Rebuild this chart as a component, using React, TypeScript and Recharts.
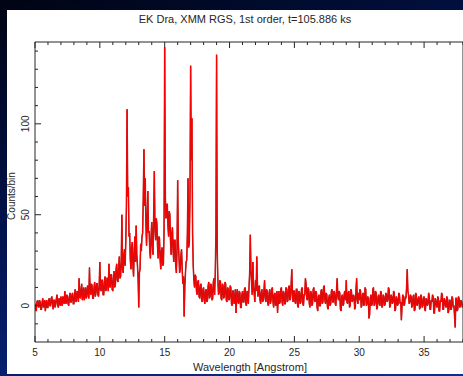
// EK Dra RGS spectrum — counts per bin vs wavelength, framed like an old IDL plot.
import { Line, LineChart, XAxis, YAxis } from "recharts";

const INK = "#262626";
const RED = "#ff0000";
const RED_EDGE = "#a81c1c";
const FONT = "'Liberation Sans', Arial, Helvetica, sans-serif";

// Spectrum binned at 0.05 Å (counts/bin).
const WAVE_START = 5;
const WAVE_STEP = 0.05;

const counts05to10 = [
  1, -2, -3, 2, 3, 0, -1, 3, 2, -2,
  -2, 2, 4, -1, 0, 3, -3, 1, 3, -1,
  -1, 3, 4, 0, 0, 4, 5, 1, -2, 3,
  3, -1, 1, 4, 6, 0, -1, 4, 3, 0,
  5, 1, 0, 5, 4, 1, 8, 3, 1, 6,
  5, 1, 0, 5, 7, 2, 2, 6, 7, 1,
  1, 6, 9, 2, 3, 8, 7, 2, 15, 5,
  4, 9, 12, 3, 6, 10, 3, 7, 10, 4,
  5, 11, 10, 4, 21, 8, 6, 12, 11, 4,
  4, 10, 13, 5, 7, 12, 12, 6, 5, 11,
];
const counts10to15 = [
  24, 9, 8, 14, 14, 6, 6, 13, 16, 8,
  9, 15, 15, 8, 23, 11, 10, 17, 17, 9,
  8, 15, 19, 10, 12, 20, 23, 14, 13, 21,
  27, 15, 16, 24, 50, 20, 18, 28, 31, 22,
  35, 55, 108, 60, 65, 38, 40, 25, 20, 32,
  35, 22, 16, 30, 38, 24, 44, 28, 22, 15,
  -1, 18, 20, 34, 30, 38, 40, 60, 86, 55,
  70, 45, 33, 48, 63, 40, 41, 30, 26, 38,
  46, 33, 28, 50, 74, 42, 36, 48, 45, 32,
  26, 38, 37, 25, 20, 30, 32, 22, 23, 40,
];
const counts15to20 = [
  142, 60, 48, 55, 56, 44, 38, 52, 50, 35,
  28, 40, 43, 30, 24, 36, 36, 22, 18, 30,
  69, 35, 27, 18, 20, 28, 31, 20, 12, 16,
  -6, 10, 18, 24, 25, 40, 70, 32, 35, 60,
  132, 80, 103, 40, 22, 14, 10, 17, 16, 8,
  6, 13, 14, 5, 4, 11, 12, 3, 2, 9,
  10, 3, 1, 8, 9, 2, 3, 11, 13, 4,
  5, 12, 11, 3, 4, 13, 15, 6, 18, 40,
  138, 30, 14, 6, 7, 14, 13, 4, 3, 12,
  11, 4, 5, 13, 12, 3, 2, 10, 9, 3,
];
const counts20to25 = [
  4, 11, 10, 1, 0, 8, 8, 1, 2, 9,
  -4, 5, 9, 2, 1, 8, 7, -1, -1, 6,
  8, 2, 2, 9, 10, 1, 0, 8, 7, 1,
  10, 18, 39, 20, 12, 6, 24, 10, 7, 2,
  14, 8, 27, 12, 5, 10, 11, 3, 1, 7,
  9, 2, 3, 8, 14, 4, 2, 9, 8, 1,
  0, 7, 9, 1, 3, 9, 10, 2, -1, 6,
  7, 0, 1, 8, -4, 3, 8, 1, 2, 9,
  10, 2, 0, 8, 7, 1, 1, 10, 9, 2,
  3, 10, 11, 3, 4, 12, 20, 6, 2, 8,
];
const counts25to30 = [
  8, 2, 1, 9, 9, 0, -1, 8, 7, 1,
  2, 9, 10, 1, 0, 6, 6, 15, 12, 4,
  3, 10, 9, 1, -1, 8, 7, 0, 1, 9,
  10, 3, 2, 8, 7, -1, -3, 5, 6, 0,
  0, 8, 9, 1, 2, 10, 11, 3, 1, 7,
  6, -1, -2, 4, 6, 0, 1, 8, 9, 2,
  2, 8, 7, 1, 0, 9, 15, 5, 3, 8,
  7, -2, -3, 5, 6, 0, 1, 7, 8, 3,
  14, 2, 1, 7, 8, -1, 0, 9, 8, 2,
  3, 6, 5, -2, -1, 9, 15, 3, 1, 7,
];
const counts30to35 = [
  3, 9, 8, -1, 0, 6, 7, 0, 1, 10,
  9, 0, 1, 5, 4, -7, -5, 4, 6, 0,
  1, 9, 10, 0, 1, 8, 7, -2, -1, 5,
  6, 1, 0, 8, 7, -1, 0, 6, 5, 0,
  1, 7, 6, 2, 3, 10, 9, -1, 0, 6,
  5, 1, 2, 8, 7, -3, -2, 5, 4, 0,
  1, 7, 6, 1, 2, -8, 0, 6, 5, 0,
  1, 5, 4, 10, 20, 8, 6, 1, 2, 6,
  5, -1, 0, 5, 6, -3, -2, 7, 6, 0,
  1, 4, 5, -2, -1, 6, 5, -1, 0, 4,
];
const counts35to38 = [
  5, -2, -3, 4, 3, 0, 1, 7, 5, -2,
  -2, 3, 2, 6, 5, -4, -4, 4, 3, 0,
  -1, 5, 4, -3, -3, 3, 2, 7, 6, -2,
  -2, 4, 3, 0, -1, 5, 4, -4, -3, 3,
  3, -2, -2, 5, 4, -1, 0, -6, -12, 4,
  4, -3, -2, 5, 4, -1, 0, 3, 2, -1,
];

const xTicks = [5, 6, 7, 8, 9, 10, 11, 12, 13, 14, 15, 16, 17, 18, 19, 20, 21, 22, 23, 24, 25, 26, 27, 28, 29, 30, 31, 32, 33, 34, 35, 36, 37, 38];
const yTicks = [-10, 0, 10, 20, 30, 40, 50, 60, 70, 80, 90, 100, 110, 120, 130, 140];

const TITLE = "EK Dra, XMM RGS, 1st order, t=105.886 ks";
const X_LABEL = "Wavelength [Angstrom]";
const Y_LABEL = "Counts/bin";

const spectrum = [
  ...counts05to10,
  ...counts10to15,
  ...counts15to20,
  ...counts20to25,
  ...counts25to30,
  ...counts30to35,
  ...counts35to38,
].map((c, i) => ({ wl: +(WAVE_START + i * WAVE_STEP).toFixed(2), counts: c }));

const isMajorX = (v: number) => v % 5 === 0;
const isMajorY = (v: number) => v % 50 === 0;

// ticks point inward, IDL style
function BottomTick({ x, y, payload }: any) {
  const major = isMajorX(payload.value);
  return (
    <g>
      <line x1={x} x2={x} y1={y} y2={y - (major ? 6 : 3)} stroke={INK} />
      {major && (
        <text x={x} y={y + 14} textAnchor="middle" fontSize={10} fontFamily={FONT} fill={INK}>
          {payload.value}
        </text>
      )}
    </g>
  );
}

function TopTick({ x, y, payload }: any) {
  const major = isMajorX(payload.value);
  return <line x1={x} x2={x} y1={y} y2={y + (major ? 6 : 3)} stroke={INK} />;
}

function LeftTick({ x, y, payload }: any) {
  const major = isMajorY(payload.value);
  return (
    <g>
      <line x1={x} x2={x + (major ? 6 : 3)} y1={y} y2={y} stroke={INK} />
      {major && (
        <text
          x={x - 6}
          y={y}
          transform={`rotate(-90 ${x - 6} ${y})`}
          textAnchor="middle"
          fontSize={10}
          fontFamily={FONT}
          fill={INK}
        >
          {payload.value}
        </text>
      )}
    </g>
  );
}

function RightTick({ x, y, payload }: any) {
  const major = isMajorY(payload.value);
  return <line x1={x} x2={x - (major ? 6 : 3)} y1={y} y2={y} stroke={INK} />;
}

export default function App() {
  return (
    <div
      style={{
        position: "fixed",
        left: 0,
        top: 0,
        width: 463,
        height: 376,
        overflow: "hidden",
        background: "linear-gradient(160deg, #000413 0%, #021450 45%, #0b2f98 100%)",
        fontFamily: FONT,
      }}
    >
      <div
        style={{ position: "absolute", left: 7, top: 10, width: 460, height: 364, background: "#fff" }}
      />
      <div
        style={{
          position: "absolute",
          left: 0,
          width: 490,
          top: 13,
          textAlign: "center",
          fontSize: 11,
          color: INK,
        }}
      >
        {TITLE}
      </div>
      <div style={{ position: "absolute", left: 0, top: 0 }}>
        <LineChart
          width={470}
          height={376}
          data={spectrum}
          margin={{ top: 41, right: 6, bottom: 33, left: 0 }}
        >
          <XAxis
            dataKey="wl"
            type="number"
            domain={[5, 38]}
            ticks={xTicks}
            interval={0}
            height={1}
            tickSize={0}
            tickMargin={0}
            tickLine={false}
            tick={<BottomTick />}
            axisLine={{ stroke: INK }}
            allowDataOverflow
          />
          <XAxis
            xAxisId="top"
            orientation="top"
            dataKey="wl"
            type="number"
            domain={[5, 38]}
            ticks={xTicks}
            interval={0}
            height={1}
            tickSize={0}
            tickMargin={0}
            tickLine={false}
            tick={<TopTick />}
            axisLine={{ stroke: INK }}
          />
          <YAxis
            type="number"
            domain={[-20, 145]}
            ticks={yTicks}
            interval={0}
            width={35}
            tickSize={0}
            tickMargin={0}
            tickLine={false}
            tick={<LeftTick />}
            axisLine={{ stroke: INK }}
            allowDataOverflow
          />
          <YAxis
            yAxisId="right"
            orientation="right"
            type="number"
            domain={[-20, 145]}
            ticks={yTicks}
            interval={0}
            width={1}
            tickSize={0}
            tickMargin={0}
            tickLine={false}
            tick={<RightTick />}
            axisLine={{ stroke: INK }}
          />
          <Line
            dataKey="counts"
            type="linear"
            stroke={RED_EDGE}
            strokeWidth={1.5}
            dot={false}
            activeDot={false}
            isAnimationActive={false}
          />
          <Line
            dataKey="counts"
            type="linear"
            stroke={RED}
            strokeWidth={0.9}
            dot={false}
            activeDot={false}
            isAnimationActive={false}
          />
        </LineChart>
      </div>
      <div
        style={{
          position: "absolute",
          left: 0,
          width: 500,
          top: 361,
          textAlign: "center",
          fontSize: 11,
          color: INK,
        }}
      >
        {X_LABEL}
      </div>
      <div
        style={{
          position: "absolute",
          left: 11,
          top: 196,
          transform: "translate(-50%, -50%) rotate(-90deg)",
          fontSize: 10,
          color: INK,
          whiteSpace: "nowrap",
        }}
      >
        {Y_LABEL}
      </div>
    </div>
  );
}
